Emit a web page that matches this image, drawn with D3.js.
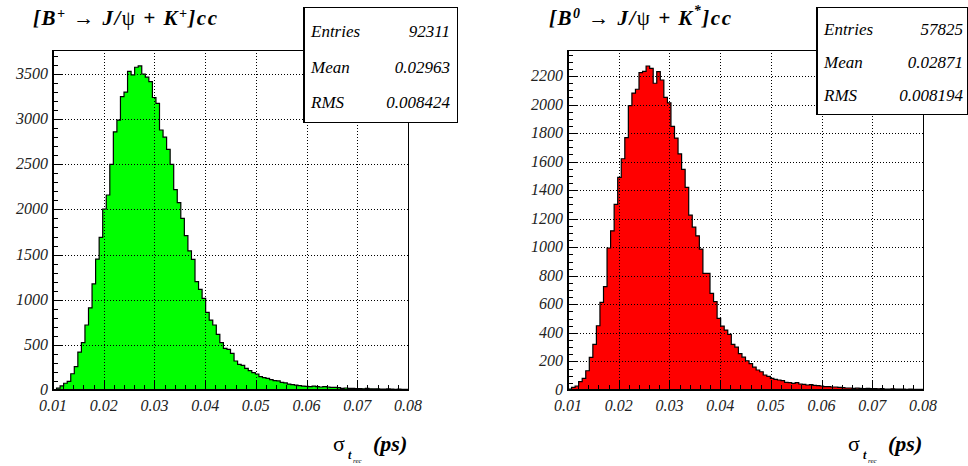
<!DOCTYPE html>
<html>
<head>
<meta charset="utf-8">
<script src="https://cdn.jsdelivr.net/npm/d3@7"></script>
<style>
  body { margin: 0; background: #fff; }
  svg { display: block; }
</style>
</head>
<body>
<script>
// sigma(t_rec) histograms, 100 bins from 0.01 to 0.08 ps
const binLo = 0.01
const binHi = 0.08

const bplusCounts = [
  5, 20, 45, 75, 95, 180, 260, 420, 525, 720,
  910, 1175, 1450, 1690, 2005, 2160, 2500, 2860, 2990, 3250,
  3300, 3530, 3490, 3575, 3590, 3500, 3465, 3415, 3240, 3175,
  2880, 2800, 2665, 2500, 2220, 2075, 1900, 1710, 1540, 1447,
  1200, 1115, 1015, 860, 775, 720, 617, 524, 461, 450,
  406, 321, 284, 273, 240, 214, 192, 177, 148, 137,
  129, 114, 103, 100, 85, 78, 66, 59, 55, 48,
  44, 40, 37, 44, 37, 33, 37, 33, 30, 30,
  26, 18, 22, 18, 18, 16, 15, 14, 18, 13,
  12, 14, 11, 10, 12, 9, 8, 10, 7, 8
]

const bzeroCounts = [
  7, 19, 28, 58, 82, 135, 229, 320, 450, 614,
  724, 995, 1115, 1300, 1490, 1620, 1768, 1992, 2080, 2107,
  2223, 2232, 2270, 2253, 2149, 2230, 2172, 2050, 2012, 1847,
  1765, 1654, 1545, 1420, 1225, 1141, 1080, 987, 817, 817,
  677, 619, 502, 448, 420, 390, 320, 300, 255, 230,
  205, 185, 160, 140, 128, 105, 95, 82, 75, 70,
  65, 54, 51, 47, 51, 42, 40, 35, 37, 33,
  30, 28, 23, 23, 21, 21, 19, 16, 14, 14,
  12, 13, 11, 10, 11, 9, 9, 8, 9, 7,
  7, 8, 6, 6, 7, 5, 6, 5, 5, 4
]

const xTicks = [0.01, 0.02, 0.03, 0.04, 0.05, 0.06, 0.07, 0.08]
const bplusYTicks = [0, 500, 1000, 1500, 2000, 2500, 3000, 3500]
const bzeroYTicks = [0, 200, 400, 600, 800, 1000, 1200, 1400, 1600, 1800, 2000, 2200]

const bplusStats = [["Entries", "92311"], ["Mean", "0.02963"], ["RMS", "0.008424"]]
const bzeroStats = [["Entries", "57825"], ["Mean", "0.02871"], ["RMS", "0.008194"]]

const W = 968, H = 466
const serif = "Liberation Serif, DejaVu Serif, serif"

const svg = d3.select("body").append("svg")
    .attr("width", W)
    .attr("height", H)
    .attr("font-family", serif)

function drawPanel(opt) {
  const g = svg.append("g").attr("transform", `translate(${opt.dx},0)`)
  const left = 53, right = 408, top = 50, bottom = 390

  const x = d3.scaleLinear().domain([binLo, binHi]).range([left, right])
  const y = d3.scaleLinear().domain([0, opt.yMax]).range([bottom, top])

  const n = opt.counts.length
  const bw = (binHi - binLo) / n
  const pts = opt.counts.map((c, i) => [binLo + i * bw, c])
  pts.push([binHi, opt.counts[n - 1]])

  // histogram
  g.append("path")
      .datum(pts)
      .attr("fill", opt.color)
      .attr("d", d3.area().curve(d3.curveStepAfter)
          .x(d => x(d[0])).y0(y(0)).y1(d => y(d[1])))

  const outline = [[binLo, 0], ...pts, [binHi, 0]]
  g.append("path")
      .datum(outline)
      .attr("fill", "none")
      .attr("stroke", "#000")
      .attr("stroke-width", 1.2)
      .attr("d", d3.line().curve(d3.curveStepAfter)
          .x(d => x(d[0])).y(d => y(d[1])))

  // grid
  const grid = g.append("g")
      .attr("stroke", "#000")
      .attr("stroke-width", 1)
      .attr("stroke-dasharray", "1,2")
  grid.selectAll(".gx").data(xTicks.slice(1, -1)).join("line")
      .attr("x1", d => Math.round(x(d)) + 0.5).attr("x2", d => Math.round(x(d)) + 0.5)
      .attr("y1", top).attr("y2", bottom)
  grid.selectAll(".gy").data(opt.yTicks.slice(1)).join("line")
      .attr("x1", left).attr("x2", right)
      .attr("y1", d => Math.round(y(d)) + 0.5).attr("y2", d => Math.round(y(d)) + 0.5)

  // frame
  g.append("rect")
      .attr("x", left + 0.5).attr("y", top + 0.5)
      .attr("width", right - left).attr("height", bottom - top)
      .attr("fill", "none").attr("stroke", "#000").attr("stroke-width", 1)

  // ticks
  const xMinor = d3.range(0, 36).map(i => binLo + i * 0.002)
  g.append("g").selectAll("line").data(xMinor).join("line")
      .attr("x1", d => Math.round(x(d)) + 0.5).attr("x2", d => Math.round(x(d)) + 0.5)
      .attr("y1", bottom)
      .attr("y2", (d, i) => bottom - (i % 5 === 0 ? 10 : 5))
      .attr("stroke", "#000")

  const yMinor = d3.range(0, opt.yMax, opt.yMinor)
  g.append("g").selectAll("line").data(yMinor).join("line")
      .attr("y1", d => Math.round(y(d)) + 0.5).attr("y2", d => Math.round(y(d)) + 0.5)
      .attr("x1", left)
      .attr("x2", d => left + (d % opt.yMajor === 0 ? 10 : 5))
      .attr("stroke", "#000")

  g.append("line").attr("x1", left).attr("x2", left).attr("y1", top).attr("y2", bottom + 1)
      .attr("stroke", "#000").attr("stroke-width", 2)
  g.append("line").attr("x1", left).attr("x2", right + 1).attr("y1", bottom).attr("y2", bottom)
      .attr("stroke", "#000").attr("stroke-width", 2)

  // tick labels
  g.append("g").selectAll("text").data(xTicks).join("text")
      .attr("x", d => x(d)).attr("y", 411)
      .attr("text-anchor", "middle")
      .attr("font-size", 16).attr("font-style", "italic").attr("fill", "#222")
      .text(d => d3.format(".2f")(d))

  g.append("g").selectAll("text").data(opt.yTicks).join("text")
      .attr("x", left - 5).attr("y", d => y(d) + 5)
      .attr("text-anchor", "end")
      .attr("font-size", 16).attr("font-style", "italic").attr("fill", "#222")
      .text(d => d)

  // axis title
  const at = g.append("text").attr("y", 451).attr("fill", "#000")
  at.append("tspan").attr("x", 333).attr("font-size", 22).text("σ")
  at.append("tspan").attr("x", 348).attr("y", 459).attr("font-size", 12)
      .attr("font-weight", "bold").attr("font-style", "italic").text("t")
  at.append("tspan").attr("x", 353).attr("y", 463).attr("font-size", 7)
      .attr("font-style", "italic").text("rec")
  at.append("tspan").attr("x", 373).attr("y", 451).attr("font-size", 22)
      .attr("font-weight", "bold").attr("font-style", "italic").text("(ps)")

  // title
  const t = g.append("text").attr("y", 25)
      .attr("font-size", 21).attr("font-weight", "bold").attr("font-style", "italic")
      .attr("textLength", opt.titleW).attr("lengthAdjust", "spacing")
  t.append("tspan").attr("x", opt.titleX).text("[B")
  t.append("tspan").attr("dy", -7).attr("font-size", 14).text(opt.sup1)
  t.append("tspan").attr("dy", 7).attr("font-weight", "normal").attr("font-style", "normal").text(" \u2192 ")
  t.append("tspan").text("J/")
  t.append("tspan").attr("font-weight", "normal").attr("font-style", "normal").text("ψ")
  t.append("tspan").text(" + K")
  t.append("tspan").attr("dy", opt.sup2Dy).attr("font-size", 14).text(opt.sup2)
  t.append("tspan").attr("dy", -opt.sup2Dy).text("]cc")

  // stats box
  const b = opt.box
  svg.append("rect")
      .attr("x", b.x + 0.5).attr("y", b.y + 0.5)
      .attr("width", b.w).attr("height", b.h)
      .attr("fill", "#fff").attr("stroke", "#000").attr("stroke-width", 1)
  svg.append("line").attr("x1", b.x + 1).attr("x2", b.x + 1).attr("y1", b.y).attr("y2", b.y + b.h + 1)
      .attr("stroke", "#000").attr("stroke-width", 2)
  opt.stats.forEach((s, i) => {
    svg.append("text").attr("x", b.x + 8).attr("y", b.rows[i])
        .attr("font-size", 17).attr("font-style", "italic").text(s[0])
    svg.append("text").attr("x", b.x + b.w - b.pad).attr("y", b.rows[i])
        .attr("text-anchor", "end")
        .attr("font-size", 17).attr("font-style", "italic").text(s[1])
  })
}

drawPanel({
  dx: 0, counts: bplusCounts, color: "#00ff00",
  yMax: 3766, yTicks: bplusYTicks, yMajor: 500, yMinor: 100,
  titleX: 33, titleW: 184, sup1: "+", sup2: "+", sup2Dy: -7,
  stats: bplusStats,
  box: { x: 303, y: 7, w: 154, h: 115, pad: 7, rows: [37, 73, 108] }
})

drawPanel({
  dx: 515, counts: bzeroCounts, color: "#ff0000",
  yMax: 2382, yTicks: bzeroYTicks, yMajor: 200, yMinor: 50,
  titleX: 34, titleW: 182, sup1: "0", sup2: "*", sup2Dy: -10,
  stats: bzeroStats,
  box: { x: 816, y: 7, w: 151, h: 107, pad: 4, rows: [35, 68, 101] }
})
</script>
</body>
</html>
